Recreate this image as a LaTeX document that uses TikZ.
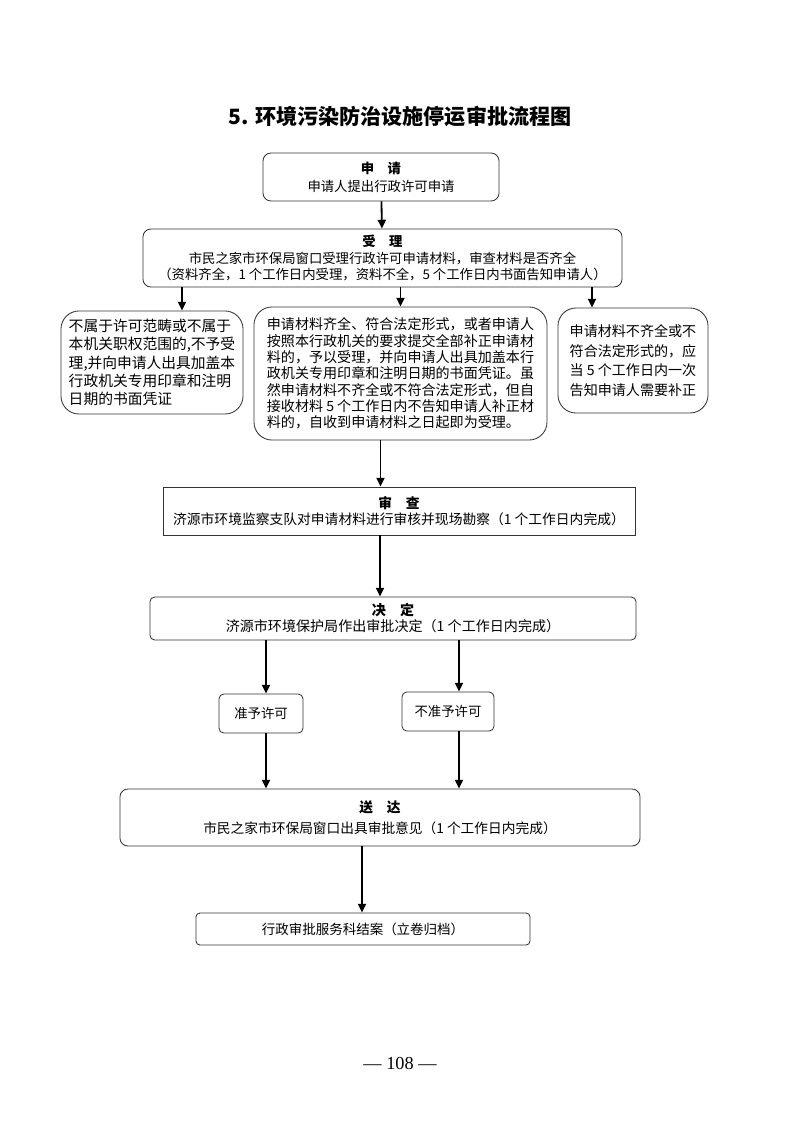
\documentclass[tikz,border=0pt]{standalone}
\usepackage{fontspec}
\setmainfont{Noto Sans CJK SC}
\newfontfamily\pagefont{Liberation Serif}
\usepackage{tikz}
\usetikzlibrary{positioning,arrows.meta}

\begin{document}
\begin{tikzpicture}[x=0.025cm, y=-0.025cm, >={Triangle[length=2.2mm,width=2mm]},
  every node/.style={font=\fontsize{9.5}{11.7}\selectfont, inner sep=1pt}]
\tikzstyle{box}=[draw=black!80, line width=0.6pt, rounded corners=0.2cm, align=center]
\tikzstyle{roundbox}=[box, rounded corners=0.45cm, align=left]
\tikzstyle{smallbox}=[box, rounded corners=0.12cm]
\tikzstyle{arr}=[->, line width=1.3pt]
\useasboundingbox (0,0) rectangle (800,1133);
\node[font=\fontsize{15}{18}\selectfont\bfseries] (title) at (400,116) {5. 环境污染防治设施停运审批流程图};
\node[box, minimum width=5.9cm, minimum height=1.2cm, font=\fontsize{9.5}{12.6}\selectfont] (apply) at (381,177) {\textbf{申\quad 请}\\申请人提出行政许可申请};
\node[box, minimum width=11.975cm, minimum height=1.45cm] (accept) at (382.5,258) {\textbf{受\quad 理}\\市民之家市环保局窗口受理行政许可申请材料，审查材料是否齐全\\（资料齐全，1 个工作日内受理，资料不全，5 个工作日内书面告知申请人）};
\node[roundbox, minimum width=4.55cm, minimum height=2.575cm, font=\fontsize{10.5}{12.9}\selectfont] (reject) at (152,362.5) {不属于许可范畴或不属于\\本机关职权范围的,不予受\\理,并向申请人出具加盖本\\行政机关专用印章和注明\\日期的书面凭证};
\node[roundbox, minimum width=7.325cm, minimum height=3.325cm, font=\fontsize{10}{11.6}\selectfont] (complete) at (400.5,373.5) {申请材料齐全、符合法定形式，或者申请人\\按照本行政机关的要求提交全部补正申请材\\料的，予以受理，并向申请人出具加盖本行\\政机关专用印章和注明日期的书面凭证。虽\\然申请材料不齐全或不符合法定形式，但自\\接收材料 5 个工作日内不告知申请人补正材\\料的，自收到申请材料之日起即为受理。};
\node[roundbox, minimum width=3.75cm, minimum height=2.625cm, font=\fontsize{10}{13.9}\selectfont] (supply) at (633,360.5) {申请材料不齐全或不\\符合法定形式的，应\\当 5 个工作日内一次\\告知申请人需要补正};
\node[box, rounded corners=0pt, minimum width=11.8cm, minimum height=1.2cm, font=\fontsize{9.8}{11.2}\selectfont] (review) at (399,511) {\textbf{审\quad 查}\\济源市环境监察支队对申请材料进行审核并现场勘察（1 个工作日内完成）};
\node[smallbox, minimum width=12.15cm, minimum height=1.075cm, font=\fontsize{10}{11.4}\selectfont] (decide) at (393,618.5) {\textbf{决\quad 定}\\济源市环境保护局作出审批决定（1 个工作日内完成）};
\node[smallbox, minimum width=2.1cm, minimum height=0.975cm] (grant) at (261,713.5) {准予许可};
\node[smallbox, minimum width=2.3cm, minimum height=0.975cm] (deny) at (448,711.5) {不准予许可};
\node[box, minimum width=13cm, minimum height=1.425cm, font=\fontsize{9.75}{11.7}\selectfont] (deliver) at (380,817.5) {\textbf{送\quad 达}\\[0.35em]市民之家市环保局窗口出具审批意见（1 个工作日内完成）};
\node[smallbox, rounded corners=0.1cm, minimum width=8.35cm, minimum height=0.8cm, font=\fontsize{9.6}{11.5}\selectfont] (archive) at (363,929) {行政审批服务科结案（立卷归档）};
\node[font=\pagefont\fontsize{13}{15}\selectfont] (page) at (400,1063) {— 108 —};
\draw[arr] (apply) -- (accept);
\draw[arr] ([xshift=0.75cm]reject.north |- accept.south) -- ([xshift=0.75cm]reject.north);
\draw[arr] (complete.north |- accept.south) -- (complete.north);
\draw[arr] ([xshift=-1.025cm]supply.north |- accept.south) -- ([xshift=-1.025cm]supply.north);
\draw[arr] ([xshift=-0.5cm]complete.south) -- ([xshift=-0.5cm]complete.south |- review.north);
\draw[arr] ([xshift=-0.475cm]review.south) -- ([xshift=-0.475cm]review.south |- decide.north);
\draw[arr] ([xshift=0.125cm]grant.north |- decide.south) -- ([xshift=0.125cm]grant.north);
\draw[arr] ([xshift=0.275cm]deny.north |- decide.south) -- ([xshift=0.275cm]deny.north);
\draw[arr] ([xshift=0.125cm]grant.south) -- ([xshift=0.125cm]grant.south |- deliver.north);
\draw[arr] ([xshift=0.275cm]deny.south) -- ([xshift=0.275cm]deny.south |- deliver.north);
\draw[arr] ([xshift=-0.45cm]deliver.south) -- ([xshift=-0.45cm]deliver.south |- archive.north);
\end{tikzpicture}
\end{document}
